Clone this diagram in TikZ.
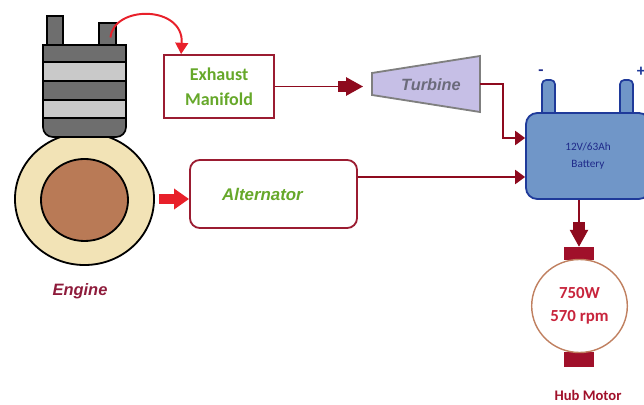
\documentclass[tikz,border=0pt]{standalone}
\usepackage{fontspec}
\setmainfont{Carlito}
\newfontfamily\arialfont{Liberation Sans}
\usetikzlibrary{arrows.meta,shapes.geometric,calc}
\definecolor{boxred}{HTML}{9B1C31}
\definecolor{wirered}{HTML}{8E0A1E}
\definecolor{hotred}{HTML}{E8202A}
\definecolor{leafgreen}{HTML}{66A82A}
\definecolor{enginegrey}{HTML}{6E6E6E}
\definecolor{stripegrey}{HTML}{C9C9C9}
\definecolor{wheelbeige}{HTML}{F2E3B6}
\definecolor{hubbrown}{HTML}{B97A56}
\definecolor{enginelabel}{HTML}{8E1B3B}
\definecolor{turbinefill}{HTML}{C6BFE6}
\definecolor{turbineedge}{HTML}{7F7F7F}
\definecolor{turbinetext}{HTML}{6B6B7B}
\definecolor{batteryfill}{HTML}{7096C8}
\definecolor{batteryblue}{HTML}{1F3A9A}
\definecolor{batterytext}{HTML}{1F2A8A}
\definecolor{motorbar}{HTML}{A0102A}
\definecolor{motorring}{HTML}{C08060}
\definecolor{motortext}{HTML}{C8243C}

\begin{document}
\begin{tikzpicture}[
    x=0.025cm, y=-0.025cm,
    box/.style={draw=boxred, line width=1.3pt, fill=white, align=center, text=leafgreen},
    wire/.style={draw=wirered, line width=1.2pt, -{Triangle[length=7pt,width=10pt]}},
    fatwire/.style={draw=wirered, line width=1.2pt, -{Square[length=5.5pt,width=8pt]Triangle[length=12pt,width=13pt]}},
    port/.style={draw, line width=1pt, fill=enginegrey},
    terminal/.style={draw=batteryblue, line width=1.2pt, fill=batteryfill, rounded corners=3pt, minimum width=0.325cm, minimum height=0.9cm},
    motorbar/.style={fill=motorbar, minimum width=0.75cm}
  ]
    \useasboundingbox (0,0) rectangle (644,405);

    % engine: valve stems, flywheel and cylinder block
    \node[port, minimum width=0.4cm, minimum height=0.75cm] (stem) at (55,31) {};
    \node[port, minimum width=0.425cm, minimum height=0.575cm] (port) at (107.5,34.5) {};
    \node[ellipse, draw, line width=1.3pt, fill=wheelbeige, minimum width=3.475cm, minimum height=3.3cm] (wheel) at (84.5,199) {};
    \node[ellipse, draw, line width=1.3pt, fill=hubbrown, minimum width=2.175cm, minimum height=2.05cm] (hub) at (84.5,200) {};
    \begin{scope}
      \clip (38,45) rectangle (132,142);
      \fill[enginegrey, rounded corners=7pt] (43,30) rectangle (126,137);
      \fill[stripegrey] (43,62) rectangle (126,81) (43,100) rectangle (126,118);
      \draw[line width=1pt] (43,62) -- (126,62) (43,81) -- (126,81)
                            (43,100) -- (126,100) (43,118) -- (126,118);
      \draw[line width=1.2pt, rounded corners=7pt] (43,30) rectangle (126,137);
    \end{scope}
    \draw[line width=1.2pt] (43,45) -- (126,45);
    \node[font=\arialfont\bfseries\itshape\fontsize{11.7}{14}\selectfont, text=enginelabel] (englabel) at (80,291) {Engine};

    % exhaust path
    \node[box, minimum width=2.75cm, minimum height=1.575cm, font=\bfseries\fontsize{12.8}{17.8}\selectfont] (exh) at (219,86.5) {Exhaust\\Manifold};
    \draw[hotred, line width=1.4pt, -{Triangle[length=8pt,width=9pt]}]
      ($(port.center)+(3,3)$) .. controls (113.5,5) and (184,5) .. ([xshift=0.45cm]exh.north west);

    \coordinate (turbin) at (372,85);
    \coordinate (turbout) at (480,84);
    \draw[draw=turbineedge, line width=1.3pt, fill=turbinefill] (372,73) -- (480,56) -- (480,112) -- (372,95) -- cycle;
    \node[font=\arialfont\bfseries\itshape\fontsize{11.6}{14}\selectfont, text=turbinetext] (turbine) at (431,85) {Turbine};
    \draw[fatwire, shorten >=0.225cm] (exh.east) -- (exh.east -| turbin);

    % alternator
    \node[box, rounded corners=7pt, minimum width=4.175cm, minimum height=1.7cm, font=\arialfont\bfseries\itshape\fontsize{12}{14}\selectfont] (alt) at (273.5,194) {Alternator\hspace*{0.55cm}};
    \draw[hotred, line width=7.8pt, shorten <=2.8pt, -{Triangle[length=10.7pt,width=14.2pt]}] (wheel.east) -- (wheel.east -| alt.west);

    % battery
    \node[terminal] (neg) at (548.5,98) {};
    \node[terminal] (pos) at (626.5,98) {};
    \node[draw=batteryblue, line width=1.3pt, fill=batteryfill, rounded corners=8pt, minimum width=3.1cm, minimum height=2.15cm,
          text=batterytext, align=center, font=\fontsize{8}{11.4}\selectfont] (bat) at (588,156) {12V/63Ah\\Battery};
    \node[font=\bfseries\fontsize{12}{14}\selectfont, text=batterytext] (minus) at (541,73) {-};
    \node[font=\bfseries\fontsize{12}{14}\selectfont, text=batteryblue] (plus) at (641,72) {+};

    \draw[wire] (turbout) -- ++(23,0) |- ($(bat.west)+(0,-18)$);
    \coordinate (altout) at ($(alt.east)+(0,-17)$);
    \draw[wire] (altout) -- (altout -| bat.west);

    % hub motor
    \node[motorbar, minimum height=0.325cm] (mtop) at (579,253.5) {};
    \node[motorbar, minimum height=0.375cm] (mbot) at (579,359.5) {};
    \node[ellipse, draw=motorring, line width=1pt, fill=white, minimum width=2.225cm, minimum height=2.325cm,
          align=center, text=motortext, font=\bfseries\fontsize{12}{16.3}\selectfont] (motor) at (579.5,306) {750W\\570 rpm};
    \node[font=\bfseries\fontsize{10.4}{12}\selectfont, text=motorbar] (hublabel) at (588,395) {Hub Motor};
    \draw[fatwire] (bat.south -| mtop) -- (mtop.north);
  \end{tikzpicture}
\end{document}
